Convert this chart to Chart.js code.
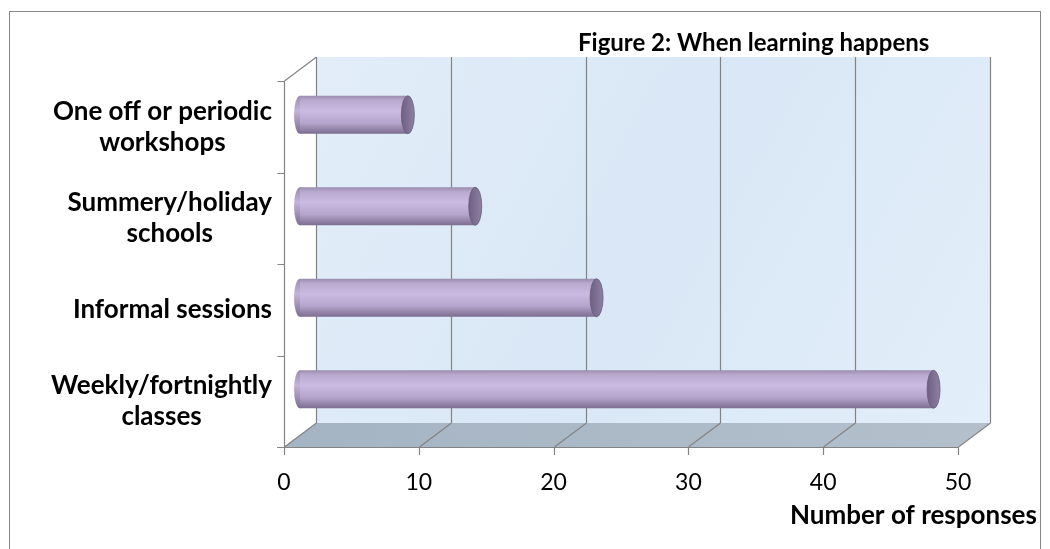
<!DOCTYPE html>
<html>
<head>
<meta charset="utf-8">
<script src="https://cdn.jsdelivr.net/npm/chart.js@4.4.0/dist/chart.umd.min.js"></script>
<style>
html, body { margin: 0; padding: 0; background: #fff; }
</style>
</head>
<body>
<canvas id="chart" width="1050" height="549"></canvas>
<script>
// chart data
var categories = [
    ['One off or periodic', 'workshops'],
    ['Summery/holiday', 'schools'],
    ['Informal sessions'],
    ['Weekly/fortnightly', 'classes']
];
var responses = [8, 13, 22, 47];
var x_min = 0;
var x_max = 50;
var x_step = 10;
var chart_title = 'Figure 2: When learning happens';
var x_title = 'Number of responses';

var font_name = 'Lato, "Open Sans", sans-serif';
var depth_x = 16;   // half depth of the 3d box
var depth_y = 12;

function cylinder_fill(c) {
    var chart = c.chart;
    if (!chart.chartArea) return '#bfaed6';
    var yc = chart.scales.y.getPixelForValue(c.dataIndex);
    var h = 19;
    var g = chart.ctx.createLinearGradient(0, yc - h, 0, yc + h);
    g.addColorStop(0, '#9a8cae');
    g.addColorStop(0.12, '#b9a9cf');
    g.addColorStop(0.4, '#cbbbe2');
    g.addColorStop(0.72, '#b5a4cb');
    g.addColorStop(1, '#7c6d90');
    return g;
}

var box3d = {
    id: 'box3d',
    beforeDatasetsDraw: function(chart) {
        var ctx = chart.ctx, xs = chart.scales.x, ys = chart.scales.y;
        var a = chart.chartArea;
        var x0 = xs.getPixelForValue(x_min), x1 = xs.getPixelForValue(x_max);
        var top = a.top, bot = a.bottom;
        ctx.save();

        // outer frame
        ctx.strokeStyle = '#878787';
        ctx.lineWidth = 1;
        ctx.strokeRect(9.5, 11.5, 1031, 560);

        // back wall
        var wg = ctx.createLinearGradient(x0, top, x1, bot);
        wg.addColorStop(0, '#e2edf8');
        wg.addColorStop(0.5, '#d9e7f6');
        wg.addColorStop(1, '#e2eef9');
        ctx.fillStyle = wg;
        ctx.fillRect(x0 + depth_x, top - depth_y, x1 - x0, bot - top);

        // floor
        var fg = ctx.createLinearGradient(x0, 0, x1, 0);
        fg.addColorStop(0, '#a5b4c3');
        fg.addColorStop(1, '#b3c0cc');
        ctx.fillStyle = fg;
        ctx.beginPath();
        ctx.moveTo(x0 - depth_x, bot + depth_y);
        ctx.lineTo(x1 - depth_x, bot + depth_y);
        ctx.lineTo(x1 + depth_x, bot - depth_y);
        ctx.lineTo(x0 + depth_x, bot - depth_y);
        ctx.closePath();
        ctx.fill();

        // grid lines on wall and floor, ticks on the front edge
        ctx.strokeStyle = '#838383';
        ctx.lineWidth = 1.2;
        ctx.beginPath();
        for (var v = x_min; v <= x_max; v += x_step) {
            var X = Math.round(xs.getPixelForValue(v)) + 0.5;
            ctx.moveTo(X + depth_x, top - depth_y);
            ctx.lineTo(X + depth_x, bot - depth_y);
            ctx.moveTo(X - depth_x, bot + depth_y);
            ctx.lineTo(X + depth_x, bot - depth_y);
            ctx.moveTo(X - depth_x, bot + depth_y);
            ctx.lineTo(X - depth_x, bot + depth_y + 8);
        }
        // front edge of floor
        ctx.moveTo(x0 - depth_x - 7, bot + depth_y + 0.5);
        ctx.lineTo(x1 - depth_x, bot + depth_y + 0.5);
        // category axis
        var ax = Math.round(x0 - depth_x) + 0.5;
        ctx.moveTo(ax, top + depth_y);
        ctx.lineTo(ax, bot + depth_y);
        ctx.moveTo(ax, top + depth_y);
        ctx.lineTo(ax + 2 * depth_x, top - depth_y);
        var n = categories.length;
        for (var k = 0; k < n; k++) {
            var Y = Math.round(top + depth_y + k * (bot - top) / n) + 0.5;
            ctx.moveTo(ax - 7, Y);
            ctx.lineTo(ax, Y);
        }
        ctx.stroke();

        // rounded left ends of the cylinders
        var meta = chart.getDatasetMeta(0);
        meta.data.forEach(function(el) {
            var base = el.base, h = el.height / 2;
            var g = ctx.createLinearGradient(0, el.y - h, 0, el.y + h);
            g.addColorStop(0, '#9a8cae');
            g.addColorStop(0.4, '#c3b3da');
            g.addColorStop(1, '#7c6d90');
            ctx.fillStyle = g;
            ctx.beginPath();
            ctx.ellipse(base, el.y, 6, h, 0, 0, Math.PI * 2);
            ctx.fill();
        });
        ctx.restore();
    },
    afterDatasetsDraw: function(chart) {
        var ctx = chart.ctx;
        var meta = chart.getDatasetMeta(0);
        ctx.save();
        meta.data.forEach(function(el) {
            var h = el.height / 2;
            var g = ctx.createLinearGradient(el.x - 6, 0, el.x + 6, 0);
            g.addColorStop(0, '#6f6183');
            g.addColorStop(1, '#8d7fa1');
            ctx.fillStyle = g;
            ctx.strokeStyle = '#6a5c7e';
            ctx.lineWidth = 0.8;
            ctx.beginPath();
            ctx.ellipse(el.x, el.y, 6.5, h, 0, 0, Math.PI * 2);
            ctx.fill();
            ctx.stroke();
        });
        ctx.restore();
    },
    afterDraw: function(chart) {
        var ctx = chart.ctx, xs = chart.scales.x, ys = chart.scales.y;
        ctx.save();
        ctx.fillStyle = '#000';
        ctx.font = 'bold 26px ' + font_name;
        ctx.textBaseline = 'middle';
        // category labels: each block right aligned, lines centred in the block
        var right = xs.getPixelForValue(x_min) - depth_x - 12;
        categories.forEach(function(lines, i) {
            var widest = 0;
            lines.forEach(function(t) { widest = Math.max(widest, ctx.measureText(t).width); });
            var cx = right - widest / 2;
            var yc = ys.getPixelForValue(i) + depth_y;
            var lh = 31;
            ctx.textAlign = 'center';
            lines.forEach(function(t, j) {
                ctx.fillText(t, cx, yc + (j - (lines.length - 1) / 2) * lh);
            });
        });
        // axis title
        ctx.textAlign = 'left';
        ctx.fillText(x_title, 790, 516);
        // chart title
        ctx.font = 'bold 24px ' + font_name;
        ctx.fillText(chart_title, 578, 43);
        ctx.restore();
    }
};

var myChart = new Chart(document.getElementById('chart'), {
    type: 'bar',
    data: {
        labels: categories.map(function(l) { return l.join(' '); }),
        datasets: [{
            label: x_title,
            data: responses,
            backgroundColor: cylinder_fill,
            borderWidth: 0,
            barPercentage: 0.415,
            categoryPercentage: 1
        }]
    },
    options: {
        indexAxis: 'y',
        responsive: false,
        animation: false,
        layout: { padding: { left: 300, top: 69, right: 76, bottom: 0 } },
        plugins: {
            legend: { display: false },
            title: { display: false },
            tooltip: { enabled: false }
        },
        scales: {
            x: {
                min: x_min,
                max: x_max,
                grid: { display: false, drawTicks: false },
                border: { display: false },
                ticks: {
                    stepSize: x_step,
                    labelOffset: -depth_x,
                    padding: 34,
                    color: '#000',
                    font: { family: font_name, size: 23 }
                },
                afterFit: function(s) { s.height = 114; }
            },
            y: {
                display: false
            }
        }
    },
    plugins: [box3d]
});
window.myChart = myChart;
</script>
</body>
</html>
